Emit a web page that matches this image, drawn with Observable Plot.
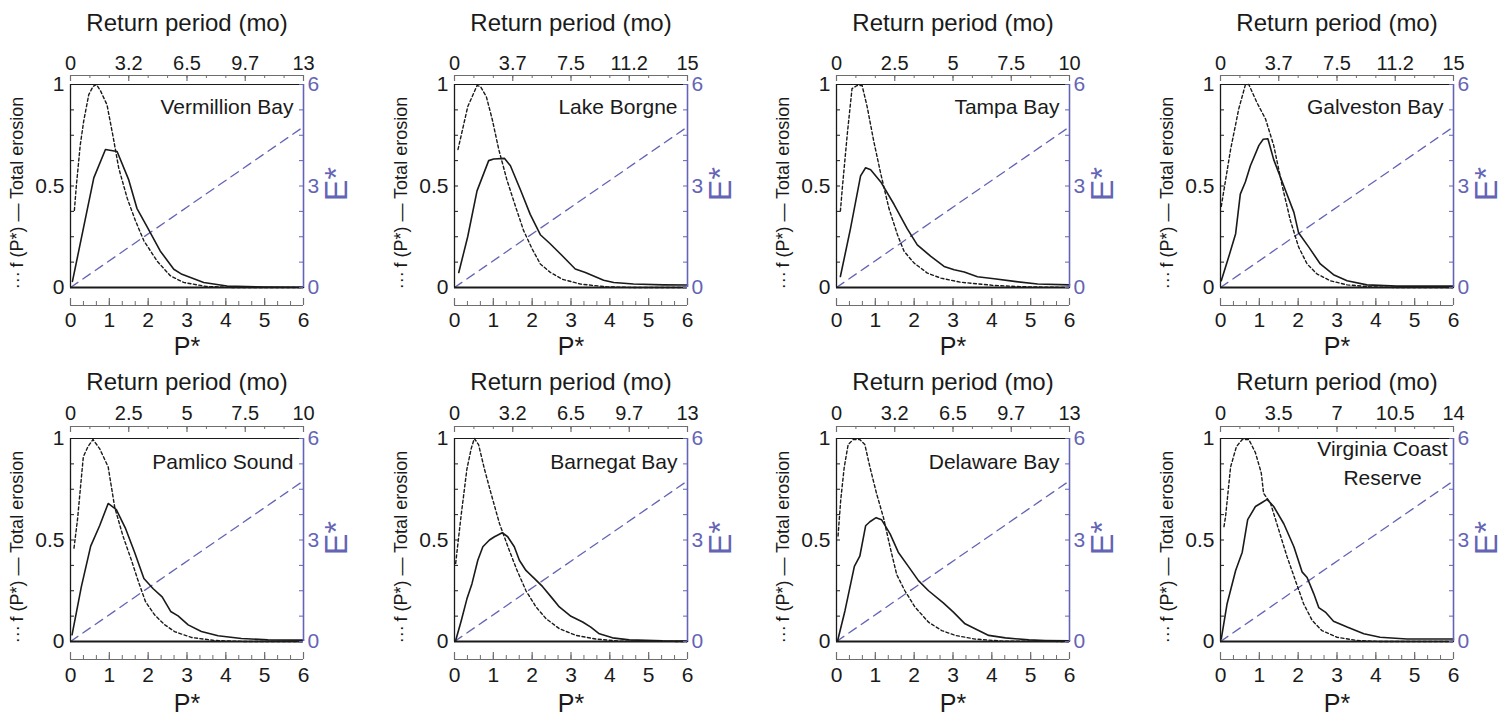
<!DOCTYPE html>
<html><head><meta charset="utf-8">
<script src="https://cdn.jsdelivr.net/npm/d3@7"></script>
<script src="https://cdn.jsdelivr.net/npm/@observablehq/plot@0.6"></script>
<style>
html,body{margin:0;padding:0;background:#fff;}
#chart{position:relative;width:1512px;height:719px;overflow:hidden;background:#fff;}
#chart svg{position:absolute;overflow:visible;}
</style></head><body><div id="chart"></div>
<script>
// ---------- data ----------
const sites = ["Vermillion Bay","Lake Borgne","Tampa Bay","Galveston Bay","Pamlico Sound","Barnegat Bay","Delaware Bay","Virginia Coast\nReserve"];
const returnTickLabels = [
  ["0","3.2","6.5","9.7","13"],
  ["0","3.7","7.5","11.2","15"],
  ["0","2.5","5","7.5","10"],
  ["0","3.7","7.5","11.2","15"],
  ["0","2.5","5","7.5","10"],
  ["0","3.2","6.5","9.7","13"],
  ["0","3.2","6.5","9.7","13"],
  ["0","3.5","7","10.5","14"]
];
const pStarTicks = [0,1,2,3,4,5,6];
const fTicks = [0,0.5,1];
const fTickLabels = ["0","0.5","1"];
const eStarTicks = [0,3,6];
const eStarLineP = [0,6];
const eStarLineE = [0,4.75];

const vermillionF = [[0.10,0.38],[0.15,0.50],[0.25,0.70],[0.34,0.82],[0.47,0.95],[0.58,0.99],[0.67,1.0],[0.77,0.97],[0.94,0.90],[1.10,0.74],[1.24,0.59],[1.46,0.44],[1.67,0.33],[1.89,0.23],[2.23,0.13],[2.57,0.058],[2.91,0.025],[3.5,0.005],[4.2,0.0],[6,0]];
const vermillionE = [[0.05,0.03],[0.6,0.54],[0.9,0.68],[1.2,0.67],[1.5,0.53],[1.71,0.39],[1.97,0.30],[2.31,0.18],[2.66,0.09],[2.87,0.065],[3.43,0.025],[4.03,0.007],[5.0,0.002],[6,0.001]];
const borgneF = [[0.09,0.68],[0.34,0.89],[0.58,0.995],[0.67,0.99],[0.82,0.94],[0.97,0.83],[1.14,0.68],[1.35,0.53],[1.57,0.40],[1.78,0.28],[2.0,0.19],[2.21,0.116],[2.47,0.074],[2.77,0.041],[3.24,0.017],[3.93,0.003],[4.6,0],[6,0]];
const borgneE = [[0.11,0.074],[0.34,0.25],[0.58,0.476],[0.88,0.625],[1.01,0.633],[1.29,0.636],[1.44,0.60],[1.70,0.48],[1.95,0.36],[2.21,0.26],[2.45,0.218],[2.73,0.165],[3.11,0.091],[3.37,0.074],[3.84,0.036],[4.1,0.025],[4.61,0.017],[5.38,0.013],[6,0.012]];
const tampaF = [[0.10,0.376],[0.15,0.49],[0.28,0.76],[0.40,0.98],[0.53,0.995],[0.66,0.995],[0.79,0.89],[0.96,0.72],[1.14,0.56],[1.35,0.39],[1.57,0.26],[1.74,0.178],[2.0,0.12],[2.34,0.071],[2.69,0.046],[3.2,0.026],[4.06,0.01],[4.92,0.003],[6,0]];
const tampaE = [[0.10,0.054],[0.36,0.29],[0.62,0.55],[0.75,0.59],[0.88,0.58],[1.14,0.52],[1.48,0.41],[1.82,0.29],[2.08,0.21],[2.43,0.153],[2.77,0.104],[3.03,0.087],[3.29,0.076],[3.63,0.053],[4.06,0.043],[4.58,0.03],[5.18,0.017],[6,0.013]];
const galvestonF = [[0.02,0.40],[0.26,0.68],[0.47,0.88],[0.64,0.998],[0.73,1.0],[0.94,0.91],[1.16,0.83],[1.37,0.70],[1.59,0.50],[1.8,0.33],[2.01,0.20],[2.23,0.116],[2.49,0.066],[2.83,0.033],[3.26,0.013],[3.86,0.003],[4.5,0],[6,0]];
const galvestonE = [[0.02,0.033],[0.21,0.15],[0.39,0.265],[0.51,0.46],[0.64,0.52],[0.77,0.60],[0.99,0.70],[1.10,0.73],[1.22,0.733],[1.37,0.63],[1.63,0.50],[1.89,0.37],[2.01,0.27],[2.27,0.20],[2.57,0.116],[2.91,0.063],[3.26,0.033],[3.77,0.013],[4.54,0.007],[6,0.007]];
const pamlicoF = [[0.09,0.46],[0.18,0.60],[0.33,0.91],[0.45,0.96],[0.58,0.995],[0.75,0.95],[0.97,0.86],[1.14,0.66],[1.35,0.52],[1.57,0.40],[1.74,0.30],[1.93,0.197],[2.17,0.13],[2.43,0.082],[2.68,0.049],[3.11,0.02],[3.71,0.005],[4.5,0],[6,0]];
const pamlicoE = [[0.04,0.033],[0.28,0.27],[0.52,0.47],[0.75,0.57],[0.97,0.68],[1.18,0.65],[1.41,0.56],[1.65,0.44],[1.89,0.31],[2.13,0.26],[2.36,0.22],[2.58,0.148],[2.77,0.126],[3.03,0.082],[3.37,0.049],[3.8,0.028],[4.4,0.015],[5.08,0.008],[6,0.007]];
const barnegatF = [[0.03,0.385],[0.17,0.62],[0.32,0.85],[0.43,0.95],[0.51,1.0],[0.62,0.97],[0.77,0.85],[0.94,0.73],[1.16,0.58],[1.37,0.47],[1.59,0.36],[1.84,0.25],[2.1,0.17],[2.36,0.112],[2.7,0.063],[3.13,0.03],[3.64,0.012],[4.24,0.002],[6,0]];
const barnegatE = [[0.03,0.005],[0.17,0.10],[0.32,0.21],[0.45,0.285],[0.6,0.40],[0.73,0.467],[0.9,0.50],[1.03,0.516],[1.23,0.536],[1.37,0.516],[1.54,0.467],[1.67,0.40],[1.84,0.35],[2.06,0.31],[2.27,0.27],[2.53,0.21],[2.7,0.17],[3.0,0.124],[3.3,0.096],[3.51,0.071],[3.73,0.038],[4.07,0.018],[4.5,0.008],[5.36,0.003],[6,0.002]];
const delawareF = [[0.04,0.52],[0.11,0.70],[0.2,0.86],[0.30,0.97],[0.43,0.995],[0.6,0.995],[0.73,0.97],[0.86,0.86],[1.03,0.73],[1.21,0.61],[1.38,0.465],[1.55,0.33],[1.76,0.25],[2.02,0.17],[2.37,0.095],[2.71,0.054],[3.06,0.03],[3.57,0.012],[4.26,0.002],[6,0]];
const delawareE = [[0.03,0.005],[0.22,0.153],[0.46,0.37],[0.6,0.42],[0.75,0.57],[0.86,0.59],[1.02,0.61],[1.16,0.60],[1.38,0.53],[1.59,0.44],[1.85,0.37],[2.11,0.30],[2.37,0.25],[2.75,0.19],[3.01,0.145],[3.31,0.087],[3.66,0.054],[3.92,0.03],[4.35,0.018],[4.95,0.008],[5.38,0.005],[6,0.003]];
const virginiaF = [[0.09,0.566],[0.13,0.615],[0.26,0.86],[0.41,0.96],[0.56,0.995],[0.73,0.995],[0.9,0.93],[1.05,0.83],[1.11,0.73],[1.29,0.68],[1.5,0.55],[1.71,0.42],[1.93,0.30],[2.14,0.186],[2.36,0.104],[2.61,0.054],[3.0,0.021],[3.51,0.005],[4.11,0],[6,0]];
const virginiaE = [[0.02,0.013],[0.17,0.186],[0.39,0.35],[0.56,0.44],[0.70,0.60],[0.9,0.665],[1.07,0.685],[1.2,0.70],[1.37,0.665],[1.63,0.58],[1.89,0.467],[2.1,0.343],[2.23,0.315],[2.4,0.236],[2.53,0.167],[2.7,0.145],[2.91,0.10],[3.26,0.071],[3.69,0.038],[4.11,0.021],[4.8,0.012],[6,0.012]];

const pdfSeries = [vermillionF, borgneF, tampaF, galvestonF, pamlicoF, barnegatF, delawareF, virginiaF];
const erosionSeries = [vermillionE, borgneE, tampaE, galvestonE, pamlicoE, barnegatE, delawareE, virginiaE];

// ---------- layout / style ----------
const FONT = "'Liberation Sans', Arial, Helvetica, sans-serif";
const INK = "#1a1a1a";
const GRAY = "#6e6e6e";
const BLUE = "#6464b6";
const colLeft = [70, 454, 836, 1220];
const rowTop = [84, 438];
const PW = 233, PH = 203;
const ML = 70, MT = 84, MR = 75, MB = 72;
const rowStyle = [
  {topAxis: 9, topLab: 21, title: 61, botLab: 33, pLab: 59, site: 23},
  {topAxis: 12, topLab: 25, title: 56, botLab: 34, pLab: 62, site: 24}
];
const eStarLine = eStarLineP.map((p, i) => ({p, e: eStarLineE[i]}));
const pMinor = d3.range(0, 6.0001, 1/3);
const topMinor = d3.range(0, 6.0001, 0.5);
const fMinor = d3.range(0, 1.0001, 0.125);
const eMinor = d3.range(0, 6.0001, 0.75);

const chart = document.getElementById("chart");

sites.forEach((site, i) => {
  const r = Math.floor(i / 4), c = i % 4;
  const rs = rowStyle[r];
  const labels = returnTickLabels[i];
  const topMajor = labels.map((t, k) => ({x: k * 6 / (labels.length - 1), t}));
  const multi = site.includes("\n");
  const svg = Plot.plot({
    width: ML + PW + MR,
    height: MT + PH + MB,
    marginLeft: ML, marginRight: MR, marginTop: MT, marginBottom: MB,
    x: {domain: [0, 6], axis: null},
    y: {domain: [0, 1], axis: null},
    style: {fontFamily: FONT, background: "transparent", overflow: "visible", color: INK},
    marks: [
      Plot.line(eStarLine, {x: "p", y: d => d.e / 6, stroke: BLUE, strokeWidth: 1.3, strokeDasharray: "9,6"}),
      Plot.line(pdfSeries[i], {x: d => d[0], y: d => d[1], stroke: INK, strokeWidth: 1.4, strokeDasharray: "3,2.5"}),
      Plot.line(erosionSeries[i], {x: d => d[0], y: d => d[1], stroke: INK, strokeWidth: 1.6}),
      Plot.ruleY([0], {stroke: INK, strokeWidth: 1.8}),
      Plot.ruleY([1], {stroke: INK, strokeWidth: 1.2}),
      Plot.ruleX([0], {stroke: INK, strokeWidth: 1.3}),
      Plot.ruleX([6], {stroke: BLUE, strokeWidth: 1.6}),
      Plot.ruleY(fMinor, {insetRight: PW - 4, stroke: INK, strokeWidth: 1}),
      Plot.text(fTicks, {y: d => d, frameAnchor: "left", dx: -6, textAnchor: "end", lineAnchor: "middle", text: (d, k) => fTickLabels[k], fontSize: 21, fill: INK}),
      Plot.ruleY(eMinor, {y: d => d / 6, insetLeft: PW - 4, stroke: BLUE, strokeWidth: 1}),
      Plot.text(eStarTicks, {y: d => d / 6, frameAnchor: "right", dx: 4, textAnchor: "start", lineAnchor: "middle", text: d => String(d), fontSize: 21, fill: BLUE}),
      Plot.text(["E*"], {frameAnchor: "right", dx: 33, dy: -2, rotate: -90, textAnchor: "middle", lineAnchor: "middle", fontSize: 32, fill: BLUE}),
      Plot.text(["···\u2009f (P*) — Total erosion"], {frameAnchor: "left", dx: -53, dy: 7, rotate: -90, textAnchor: "middle", lineAnchor: "middle", fontSize: 18, fill: INK}),
      Plot.ruleY([0], {dy: 18, stroke: GRAY, strokeWidth: 1.2}),
      Plot.ruleX(pStarTicks, {dy: 18, insetTop: PH - 7, stroke: GRAY, strokeWidth: 1.2}),
      Plot.ruleX(pMinor, {dy: 18, insetTop: PH - 4, stroke: GRAY, strokeWidth: 1}),
      Plot.text(pStarTicks, {x: d => d, frameAnchor: "bottom", dy: rs.botLab, lineAnchor: "middle", text: d => String(d), fontSize: 21, fill: INK}),
      Plot.text(["P*"], {frameAnchor: "bottom", dy: rs.pLab, lineAnchor: "middle", fontSize: 25, fill: INK}),
      Plot.ruleY([1], {dy: -rs.topAxis, stroke: GRAY, strokeWidth: 1.2}),
      Plot.ruleX(topMajor, {x: "x", dy: -rs.topAxis, insetBottom: PH - 6, stroke: GRAY, strokeWidth: 1.2}),
      Plot.ruleX(topMinor, {dy: -rs.topAxis, insetBottom: PH - 3, stroke: GRAY, strokeWidth: 1}),
      Plot.text(topMajor, {x: "x", frameAnchor: "top", dy: -rs.topLab, lineAnchor: "middle", text: "t", fontSize: 20, fill: INK}),
      Plot.text(["Return period (mo)"], {frameAnchor: "top", dy: -rs.title, lineAnchor: "middle", fontSize: 24, fill: INK}),
      multi
        ? Plot.text([site], {frameAnchor: "top-right", dx: -71, dy: rs.site - 1, textAnchor: "middle", lineAnchor: "middle", lineHeight: 1.35, fontSize: 21, fill: INK})
        : Plot.text([site], {frameAnchor: "top-right", dx: -10, dy: rs.site, textAnchor: "end", lineAnchor: "middle", fontSize: 21, fill: INK})
    ]
  });
  svg.style.left = (colLeft[c] - ML) + "px";
  svg.style.top = (rowTop[r] - MT) + "px";
  chart.appendChild(svg);
});
</script></body></html>
